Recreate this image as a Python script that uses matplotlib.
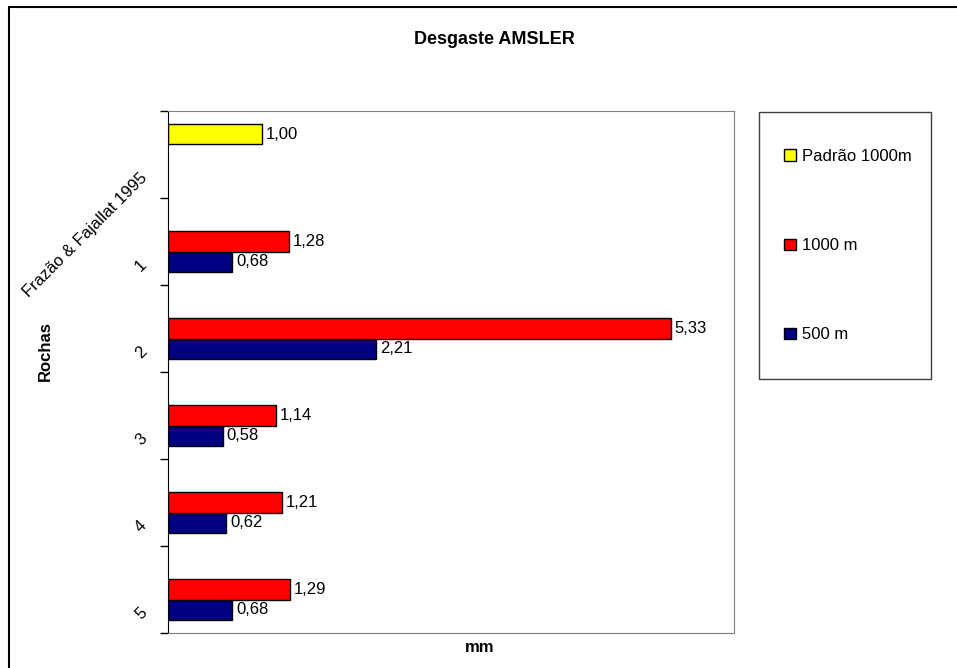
import numpy as np
import matplotlib
matplotlib.use('Agg')
import matplotlib.pyplot as plt
from matplotlib.patches import Rectangle
from matplotlib.transforms import ScaledTranslation

plt.rcParams['font.family'] = ['Liberation Sans', 'DejaVu Sans']

# Data (top to bottom as in the chart)
categories = ['Frazão & Fajallat 1995', '1', '2', '3', '4', '5']
padrao_1000 = [1.00, np.nan, np.nan, np.nan, np.nan, np.nan]
m1000 = [np.nan, 1.28, 5.33, 1.14, 1.21, 1.29]
m500 = [np.nan, 0.68, 2.21, 0.58, 0.62, 0.68]

W, H = 957, 668
fig = plt.figure(figsize=(W / 100, H / 100), dpi=100)
ax = fig.add_axes([168 / W, 1 - 633 / H, (734 - 168) / W, (633 - 111) / H])

pos = np.arange(len(categories))[::-1]
h = 0.23

b_blue = ax.barh(pos - h, m500, height=h, color='#000080', edgecolor='black', linewidth=1, label='500 m')
b_red = ax.barh(pos, m1000, height=h, color='#FF0000', edgecolor='black', linewidth=1, label='1000 m')
b_yel = ax.barh(pos + h, padrao_1000, height=h, color='#FFFF00', edgecolor='black', linewidth=1, label='Padrão 1000m')

# value labels with comma as decimal separator
for series, off in [(m500, -h), (m1000, 0), (padrao_1000, h)]:
    for p, v in zip(pos, series):
        if not np.isnan(v):
            ax.text(v + 0.04, p + off, f'{v:.2f}'.replace('.', ','),
                    ha='left', va='center', fontsize=12)

ax.set_xlim(0, 6)
ax.set_ylim(-0.5, len(categories) - 0.5)
ax.set_xticks([])

# category labels rotated, ticks at the boundaries
ax.set_yticks(pos)
ax.set_yticklabels(categories, rotation=45, ha='right', va='center',
                   rotation_mode='anchor', fontsize=12)
ax.set_yticks(np.arange(-0.5, len(categories), 1.0), minor=True)
ax.tick_params(axis='y', which='major', length=0, pad=17)
ax.tick_params(axis='y', which='minor', length=6, width=1, color='black')
shift = ScaledTranslation(0, -0.21, fig.dpi_scale_trans)
for lab in ax.get_yticklabels():
    lab.set_transform(lab.get_transform() + shift)

ax.spines['left'].set_color('black')
for s in ['top', 'right', 'bottom']:
    ax.spines[s].set_color('#808080')

# titles
fig.text(494 / W, 1 - 40 / H, 'Desgaste AMSLER', ha='center', va='center',
         fontsize=13, fontweight='bold')
fig.text(45 / W, 1 - 351 / H, 'Rochas', rotation=90, ha='center', va='center',
         fontsize=12, fontweight='bold')
fig.text(480 / W, 1 - 648 / H, 'mm', ha='center', va='center',
         fontsize=12, fontweight='bold')

# legend with its own box
fig.patches.append(Rectangle((759 / W, 1 - 379 / H), (931 - 759) / W, (379 - 112) / H,
                             transform=fig.transFigure, fill=False,
                             edgecolor='#404040', linewidth=1))
fig.legend(handles=[b_yel, b_red, b_blue], labels=['Padrão 1000m', '1000 m', '500 m'],
           loc='upper left', bbox_to_anchor=(784 / W, 1 - 149 / H),
           bbox_transform=fig.transFigure, frameon=False, fontsize=12,
           labelspacing=4.45, handlelength=0.7, handleheight=0.7,
           handletextpad=0.4, borderpad=0, borderaxespad=0)

# outer chart border
fig.patches.append(Rectangle((9 / W, -0.05), 1.1, 1 - 7 / H + 0.05,
                             transform=fig.transFigure, fill=False,
                             edgecolor='black', linewidth=1.5))

fig.savefig('out.png', dpi=100)
